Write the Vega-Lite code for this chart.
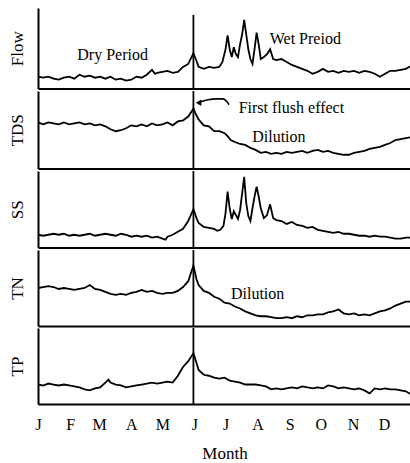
{
  "$schema": "https://vega.github.io/schema/vega-lite/v6.json",
  "padding": {"left": 8, "top": 8, "right": 0, "bottom": 0},
  "spacing": 0,
  "config": {
    "view": {"stroke": null},
    "concat": {"spacing": 0},
    "axis": {"domainColor": "black", "domainWidth": 2, "ticks": false, "labels": false, "grid": false, "labelOverlap": false, "labelFlush": false,
      "titleFont": "Liberation Serif", "titleFontSize": 17, "titleFontWeight": "normal", "titleColor": "black",
      "labelFont": "Liberation Serif", "labelFontSize": 16, "labelColor": "black"},
    "text": {"font": "Liberation Serif", "fontSize": 16, "color": "black", "align": "center", "baseline": "alphabetic"}
  },
  "datasets": {
    "flow": [{"d":0,"v":12},{"d":5,"v":11},{"d":10,"v":12},{"d":15,"v":10},{"d":20,"v":9},{"d":25,"v":11},{"d":30,"v":12},{"d":35,"v":10},{"d":40,"v":14},{"d":45,"v":12},{"d":50,"v":13},{"d":55,"v":11},{"d":60,"v":12},{"d":65,"v":10},{"d":70,"v":12},{"d":75,"v":9},{"d":80,"v":10},{"d":85,"v":8},{"d":90,"v":9},{"d":95,"v":12},{"d":100,"v":11},{"d":105,"v":14},{"d":110,"v":19},{"d":113,"v":15},{"d":115,"v":16},{"d":120,"v":17},{"d":125,"v":18},{"d":130,"v":16},{"d":135,"v":17},{"d":140,"v":22},{"d":145,"v":25},{"d":150,"v":36},{"d":153,"v":28},{"d":155,"v":22},{"d":160,"v":20},{"d":165,"v":22},{"d":170,"v":21},{"d":175,"v":22},{"d":178,"v":27},{"d":181,"v":40},{"d":183,"v":54},{"d":185,"v":40},{"d":187,"v":32},{"d":189,"v":42},{"d":191,"v":35},{"d":193,"v":32},{"d":195,"v":45},{"d":197,"v":55},{"d":199,"v":70},{"d":201,"v":55},{"d":203,"v":40},{"d":205,"v":30},{"d":207,"v":25},{"d":209,"v":40},{"d":211,"v":57},{"d":213,"v":45},{"d":215,"v":30},{"d":218,"v":32},{"d":221,"v":35},{"d":224,"v":40},{"d":227,"v":30},{"d":230,"v":29},{"d":235,"v":30},{"d":240,"v":27},{"d":245,"v":24},{"d":250,"v":22},{"d":255,"v":20},{"d":260,"v":18},{"d":265,"v":15},{"d":270,"v":17},{"d":275,"v":20},{"d":280,"v":17},{"d":285,"v":18},{"d":290,"v":16},{"d":295,"v":18},{"d":300,"v":17},{"d":305,"v":18},{"d":310,"v":16},{"d":315,"v":18},{"d":320,"v":17},{"d":325,"v":15},{"d":330,"v":12},{"d":335,"v":15},{"d":340,"v":18},{"d":345,"v":18},{"d":350,"v":19},{"d":355,"v":20},{"d":360,"v":23}],
    "tds": [{"d":0,"v":47},{"d":5,"v":45},{"d":10,"v":47},{"d":15,"v":46},{"d":20,"v":45},{"d":25,"v":47},{"d":30,"v":45},{"d":35,"v":46},{"d":40,"v":47},{"d":45,"v":45},{"d":50,"v":46},{"d":55,"v":44},{"d":60,"v":45},{"d":65,"v":43},{"d":70,"v":40},{"d":75,"v":38},{"d":80,"v":39},{"d":85,"v":41},{"d":90,"v":44},{"d":95,"v":43},{"d":100,"v":45},{"d":105,"v":43},{"d":110,"v":46},{"d":115,"v":44},{"d":120,"v":45},{"d":125,"v":47},{"d":130,"v":44},{"d":135,"v":48},{"d":140,"v":49},{"d":145,"v":53},{"d":150,"v":61},{"d":153,"v":54},{"d":155,"v":50},{"d":160,"v":44},{"d":165,"v":43},{"d":170,"v":38},{"d":175,"v":38},{"d":180,"v":36},{"d":183,"v":33},{"d":186,"v":29},{"d":190,"v":27},{"d":195,"v":25},{"d":200,"v":24},{"d":205,"v":21},{"d":210,"v":19},{"d":215,"v":16},{"d":220,"v":17},{"d":225,"v":15},{"d":230,"v":16},{"d":235,"v":15},{"d":240,"v":17},{"d":245,"v":16},{"d":250,"v":17},{"d":255,"v":18},{"d":260,"v":16},{"d":265,"v":18},{"d":270,"v":19},{"d":275,"v":17},{"d":280,"v":18},{"d":285,"v":16},{"d":290,"v":15},{"d":295,"v":14},{"d":300,"v":14},{"d":305,"v":16},{"d":310,"v":17},{"d":315,"v":18},{"d":320,"v":20},{"d":325,"v":21},{"d":330,"v":22},{"d":335,"v":24},{"d":340,"v":26},{"d":345,"v":29},{"d":350,"v":30},{"d":355,"v":31},{"d":360,"v":32}],
    "ss": [{"d":0,"v":13},{"d":5,"v":12},{"d":10,"v":13},{"d":15,"v":14},{"d":20,"v":13},{"d":25,"v":14},{"d":30,"v":12},{"d":35,"v":13},{"d":40,"v":12},{"d":45,"v":13},{"d":50,"v":14},{"d":55,"v":12},{"d":60,"v":13},{"d":65,"v":14},{"d":70,"v":13},{"d":75,"v":12},{"d":80,"v":14},{"d":85,"v":13},{"d":90,"v":11},{"d":95,"v":12},{"d":100,"v":11},{"d":105,"v":12},{"d":110,"v":10},{"d":115,"v":11},{"d":120,"v":9},{"d":123,"v":8},{"d":125,"v":11},{"d":130,"v":13},{"d":135,"v":16},{"d":140,"v":19},{"d":145,"v":27},{"d":150,"v":39},{"d":153,"v":30},{"d":155,"v":25},{"d":160,"v":21},{"d":165,"v":20},{"d":170,"v":19},{"d":173,"v":17},{"d":176,"v":18},{"d":179,"v":22},{"d":181,"v":35},{"d":183,"v":57},{"d":185,"v":40},{"d":187,"v":29},{"d":189,"v":37},{"d":191,"v":33},{"d":193,"v":29},{"d":195,"v":38},{"d":197,"v":55},{"d":199,"v":72},{"d":201,"v":45},{"d":203,"v":32},{"d":205,"v":27},{"d":207,"v":40},{"d":209,"v":52},{"d":211,"v":62},{"d":213,"v":52},{"d":215,"v":40},{"d":218,"v":30},{"d":221,"v":33},{"d":224,"v":44},{"d":227,"v":30},{"d":230,"v":28},{"d":235,"v":27},{"d":240,"v":24},{"d":245,"v":26},{"d":250,"v":23},{"d":255,"v":22},{"d":260,"v":20},{"d":265,"v":21},{"d":270,"v":18},{"d":275,"v":17},{"d":280,"v":16},{"d":285,"v":15},{"d":290,"v":16},{"d":295,"v":14},{"d":300,"v":14},{"d":305,"v":13},{"d":310,"v":12},{"d":315,"v":12},{"d":320,"v":11},{"d":325,"v":12},{"d":330,"v":11},{"d":335,"v":11},{"d":340,"v":10},{"d":345,"v":9},{"d":350,"v":9},{"d":355,"v":10},{"d":360,"v":10}],
    "tn": [{"d":0,"v":39},{"d":5,"v":40},{"d":10,"v":41},{"d":15,"v":40},{"d":20,"v":38},{"d":25,"v":39},{"d":30,"v":38},{"d":35,"v":37},{"d":40,"v":38},{"d":45,"v":39},{"d":50,"v":42},{"d":55,"v":38},{"d":60,"v":37},{"d":65,"v":35},{"d":70,"v":33},{"d":75,"v":32},{"d":80,"v":33},{"d":85,"v":32},{"d":90,"v":34},{"d":95,"v":35},{"d":100,"v":37},{"d":105,"v":35},{"d":110,"v":36},{"d":115,"v":34},{"d":120,"v":33},{"d":125,"v":34},{"d":130,"v":34},{"d":135,"v":36},{"d":140,"v":40},{"d":145,"v":46},{"d":150,"v":62},{"d":153,"v":48},{"d":155,"v":42},{"d":160,"v":36},{"d":165,"v":34},{"d":170,"v":30},{"d":175,"v":28},{"d":180,"v":24},{"d":185,"v":23},{"d":190,"v":20},{"d":195,"v":18},{"d":200,"v":15},{"d":205,"v":13},{"d":210,"v":11},{"d":215,"v":10},{"d":220,"v":10},{"d":225,"v":9},{"d":230,"v":8},{"d":235,"v":8},{"d":240,"v":9},{"d":245,"v":8},{"d":250,"v":10},{"d":255,"v":9},{"d":260,"v":11},{"d":265,"v":11},{"d":270,"v":12},{"d":275,"v":12},{"d":280,"v":14},{"d":285,"v":15},{"d":290,"v":17},{"d":295,"v":13},{"d":300,"v":12},{"d":305,"v":13},{"d":310,"v":11},{"d":315,"v":12},{"d":320,"v":11},{"d":325,"v":13},{"d":330,"v":15},{"d":335,"v":16},{"d":340,"v":18},{"d":345,"v":21},{"d":350,"v":23},{"d":355,"v":25},{"d":360,"v":25}],
    "tp": [{"d":0,"v":20},{"d":5,"v":19},{"d":10,"v":21},{"d":15,"v":20},{"d":20,"v":19},{"d":25,"v":20},{"d":30,"v":19},{"d":35,"v":18},{"d":40,"v":17},{"d":45,"v":15},{"d":50,"v":14},{"d":55,"v":16},{"d":60,"v":17},{"d":65,"v":22},{"d":68,"v":25},{"d":70,"v":22},{"d":75,"v":20},{"d":80,"v":19},{"d":85,"v":17},{"d":90,"v":18},{"d":95,"v":19},{"d":100,"v":20},{"d":105,"v":21},{"d":110,"v":22},{"d":115,"v":21},{"d":120,"v":22},{"d":125,"v":23},{"d":130,"v":22},{"d":135,"v":29},{"d":140,"v":38},{"d":145,"v":44},{"d":150,"v":52},{"d":153,"v":42},{"d":155,"v":35},{"d":160,"v":30},{"d":165,"v":29},{"d":170,"v":27},{"d":175,"v":26},{"d":180,"v":27},{"d":185,"v":24},{"d":190,"v":23},{"d":195,"v":22},{"d":200,"v":20},{"d":205,"v":20},{"d":210,"v":20},{"d":215,"v":19},{"d":220,"v":18},{"d":225,"v":15},{"d":230,"v":16},{"d":235,"v":15},{"d":240,"v":16},{"d":245,"v":17},{"d":250,"v":16},{"d":255,"v":18},{"d":260,"v":17},{"d":265,"v":16},{"d":270,"v":17},{"d":275,"v":16},{"d":280,"v":19},{"d":285,"v":18},{"d":290,"v":16},{"d":295,"v":17},{"d":300,"v":16},{"d":305,"v":15},{"d":310,"v":16},{"d":315,"v":14},{"d":320,"v":11},{"d":325,"v":16},{"d":330,"v":15},{"d":335,"v":16},{"d":340,"v":15},{"d":345,"v":15},{"d":350,"v":14},{"d":355,"v":13},{"d":360,"v":10}],
    "arrow": [{"d":157,"v":68},{"d":164,"v":70},{"d":172,"v":71},{"d":178.5,"v":71},{"d":182.4,"v":68},{"d":184.3,"v":65}]
  },
  "vconcat": [
    {
      "width": 373, "height": 80.5,
      "layer": [
        {"data": {"name": "flow"}, "mark": {"type": "line", "color": "black", "strokeWidth": 1.8},
         "encoding": {
           "x": {"field": "d", "type": "quantitative", "scale": {"domain": [0, 360], "nice": false, "zero": false}, "axis": {"title": null}},
           "y": {"field": "v", "type": "quantitative", "scale": {"domain": [0, 82], "nice": false}, "axis": {"title": "Flow", "titlePadding": 12}}}},
        {"data": {"values": [{"d": 150, "top": 75, "bot": 0}]}, "mark": {"type": "rule", "color": "black", "strokeWidth": 1.8},
         "encoding": {"x": {"field": "d", "type": "quantitative"}, "y": {"field": "top", "type": "quantitative"}, "y2": {"field": "bot"}}},
        {"data": {"values": [{"d": 72, "v": 29, "t": "Dry Period"}, {"d": 258, "v": 45, "t": "Wet Preiod"}]}, "mark": {"type": "text"},
         "encoding": {"x": {"field": "d", "type": "quantitative"}, "y": {"field": "v", "type": "quantitative"}, "text": {"field": "t"}}}
      ]
    },
    {
      "width": 373, "height": 77.5,
      "layer": [
        {"data": {"name": "tds"}, "mark": {"type": "line", "color": "black", "strokeWidth": 1.8},
         "encoding": {
           "x": {"field": "d", "type": "quantitative", "scale": {"domain": [0, 360], "nice": false, "zero": false}, "axis": {"title": null}},
           "y": {"field": "v", "type": "quantitative", "scale": {"domain": [0, 79], "nice": false}, "axis": {"title": "TDS", "titlePadding": 12}}}},
        {"data": {"values": [{"d": 150}]}, "mark": {"type": "rule", "color": "black", "strokeWidth": 1.8},
         "encoding": {"x": {"field": "d", "type": "quantitative"}}},
        {"data": {"name": "arrow"}, "mark": {"type": "line", "color": "black", "strokeWidth": 1.6, "interpolate": "monotone"},
         "encoding": {"x": {"field": "d", "type": "quantitative"}, "y": {"field": "v", "type": "quantitative"}}},
        {"data": {"values": [{"d": 155, "v": 67}]}, "mark": {"type": "point", "shape": "triangle-left", "filled": true, "color": "black", "size": 40, "opacity": 1},
         "encoding": {"x": {"field": "d", "type": "quantitative"}, "y": {"field": "v", "type": "quantitative"}}},
        {"data": {"values": [{"d": 244.6, "v": 57, "t": "First flush effect"}, {"d": 232.5, "v": 27, "t": "Dilution"}]}, "mark": {"type": "text"},
         "encoding": {"x": {"field": "d", "type": "quantitative"}, "y": {"field": "v", "type": "quantitative"}, "text": {"field": "t"}}}
      ]
    },
    {
      "width": 373, "height": 76.5,
      "layer": [
        {"data": {"name": "ss"}, "mark": {"type": "line", "color": "black", "strokeWidth": 1.8},
         "encoding": {
           "x": {"field": "d", "type": "quantitative", "scale": {"domain": [0, 360], "nice": false, "zero": false}, "axis": {"title": null}},
           "y": {"field": "v", "type": "quantitative", "scale": {"domain": [0, 78], "nice": false}, "axis": {"title": "SS", "titlePadding": 12}}}},
        {"data": {"values": [{"d": 150}]}, "mark": {"type": "rule", "color": "black", "strokeWidth": 1.8},
         "encoding": {"x": {"field": "d", "type": "quantitative"}}}
      ]
    },
    {
      "width": 373, "height": 76,
      "layer": [
        {"data": {"name": "tn"}, "mark": {"type": "line", "color": "black", "strokeWidth": 1.8},
         "encoding": {
           "x": {"field": "d", "type": "quantitative", "scale": {"domain": [0, 360], "nice": false, "zero": false}, "axis": {"title": null}},
           "y": {"field": "v", "type": "quantitative", "scale": {"domain": [0, 78], "nice": false}, "axis": {"title": "TN", "titlePadding": 12}}}},
        {"data": {"values": [{"d": 150}]}, "mark": {"type": "rule", "color": "black", "strokeWidth": 1.8},
         "encoding": {"x": {"field": "d", "type": "quantitative"}}},
        {"data": {"values": [{"d": 212, "v": 28, "t": "Dilution"}]}, "mark": {"type": "text"},
         "encoding": {"x": {"field": "d", "type": "quantitative"}, "y": {"field": "v", "type": "quantitative"}, "text": {"field": "t"}}}
      ]
    },
    {
      "width": 373, "height": 76,
      "layer": [
        {"data": {"name": "tp"}, "mark": {"type": "line", "color": "black", "strokeWidth": 1.8},
         "encoding": {
           "x": {"field": "d", "type": "quantitative", "scale": {"domain": [0, 360], "nice": false, "zero": false},
                 "axis": {"title": "Month", "titlePadding": 13, "labels": true, "labelPadding": 12, "labelFlush": false, "labelOverlap": false,
                          "values": [0, 31, 59, 90, 120, 151, 181, 212, 243, 273, 304, 334],
                          "labelExpr": "['J','F','M','A','M','J','J','A','S','O','N','D'][indexof([0,31,59,90,120,151,181,212,243,273,304,334], datum.value)]"}},
           "y": {"field": "v", "type": "quantitative", "scale": {"domain": [0, 78], "nice": false}, "axis": {"title": "TP", "titlePadding": 12}}}},
        {"data": {"values": [{"d": 150}]}, "mark": {"type": "rule", "color": "black", "strokeWidth": 1.8},
         "encoding": {"x": {"field": "d", "type": "quantitative", "axis": {"title": "Month", "labels": true, "labelOverlap": false, "values": [0, 31, 59, 90, 120, 151, 181, 212, 243, 273, 304, 334]}}}}
      ]
    }
  ]
}
